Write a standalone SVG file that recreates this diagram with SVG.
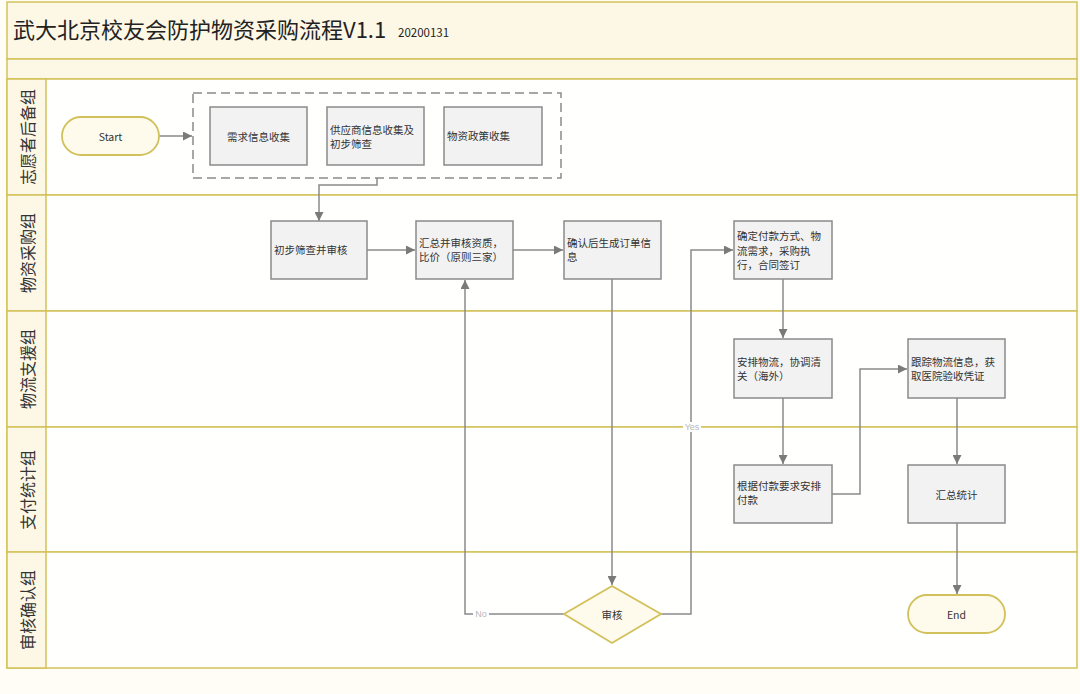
<svg xmlns="http://www.w3.org/2000/svg" width="1080" height="694" viewBox="0 0 1080 694">
<style>
.lane{fill:#fffffd;stroke:#d4c25a;stroke-width:1.5}
.head{fill:#fdf7e6;stroke:#d4c25a;stroke-width:1.5}
.lbl{font-family:"Noto Sans CJK SC","Noto Sans",sans-serif;font-size:16px;fill:#333;text-anchor:middle;dominant-baseline:central}
.box{fill:#f2f2f2;stroke:#8a8a8a;stroke-width:1.5}
.t{font-family:"Noto Sans CJK SC","Liberation Sans",sans-serif;font-size:10.5px;fill:#333}
.c{text-anchor:middle;dominant-baseline:central}
.term{fill:#fffbec;stroke:#d2c05a;stroke-width:1.8}
.ln{fill:none;stroke:#8a8a8a;stroke-width:1.5}
.faint{font-family:"Liberation Sans",sans-serif;font-size:9px;fill:#b8b8b8}
</style>
<defs>
<marker id="ah" viewBox="0 0 10 10" refX="10" refY="5" markerWidth="9" markerHeight="9" markerUnits="userSpaceOnUse" orient="auto">
<path d="M0,0 L10,5 L0,10 z" fill="#7a7a7a"/>
</marker>
</defs>
<rect x="0" y="0" width="1080" height="694" fill="#fffdf6"/>
<g id="frame">
<rect class="head" x="7" y="2" width="1070" height="57"/>
<rect class="head" x="7" y="59" width="1070" height="20"/>
<rect class="lane" x="7" y="79" width="1070" height="116"/>
<rect class="lane" x="7" y="195" width="1070" height="116"/>
<rect class="lane" x="7" y="311" width="1070" height="116"/>
<rect class="lane" x="7" y="427" width="1070" height="125"/>
<rect class="lane" x="7" y="552" width="1070" height="116"/>
<rect class="head" x="7" y="79" width="39" height="116"/>
<rect class="head" x="7" y="195" width="39" height="116"/>
<rect class="head" x="7" y="311" width="39" height="116"/>
<rect class="head" x="7" y="427" width="39" height="125"/>
<rect class="head" x="7" y="552" width="39" height="116"/>
<text x="13" y="38" font-family="Noto Sans CJK SC,Liberation Sans,sans-serif" font-size="22" fill="#222">武大北京校友会防护物资采购流程V1.1</text>
<text x="398" y="37" font-family="Noto Sans CJK SC,Liberation Sans,sans-serif" font-size="11.5" fill="#222">20200131</text>
<text class="lbl" transform="translate(27 137) rotate(-90)">志愿者后备组</text>
<text class="lbl" transform="translate(27 253) rotate(-90)">物资采购组</text>
<text class="lbl" transform="translate(27 369) rotate(-90)">物流支援组</text>
<text class="lbl" transform="translate(27 490) rotate(-90)">支付统计组</text>
<text class="lbl" transform="translate(27 610) rotate(-90)">审核确认组</text>
</g>
<g id="connectors">
<path class="ln" d="M159 136 H192" marker-end="url(#ah)"/>
<path class="ln" d="M377 178 V185 H319 V221" marker-end="url(#ah)"/>
<path class="ln" d="M367 250 H415" marker-end="url(#ah)"/>
<path class="ln" d="M513 250 H563" marker-end="url(#ah)"/>
<path class="ln" d="M612 279 V585" marker-end="url(#ah)"/>
<path class="ln" d="M564 614 H465 V280" marker-end="url(#ah)"/>
<path class="ln" d="M661 614 H691 V250 H733" marker-end="url(#ah)"/>
<path class="ln" d="M783 279 V338" marker-end="url(#ah)"/>
<path class="ln" d="M783 398 V464" marker-end="url(#ah)"/>
<path class="ln" d="M832 494 H860 V369 H907" marker-end="url(#ah)"/>
<path class="ln" d="M957 398 V464" marker-end="url(#ah)"/>
<path class="ln" d="M957 523 V594" marker-end="url(#ah)"/>
<rect x="683" y="422" width="18" height="10" fill="#ffffff"/>
<text class="faint" x="692" y="430" text-anchor="middle">Yes</text>
<rect x="473" y="609" width="16" height="10" fill="#ffffff"/>
<text class="faint" x="481" y="617" text-anchor="middle">No</text>
</g>
<g id="start">
<rect class="term" x="62" y="117" width="97" height="38" rx="19"/>
<text class="t c" x="110.5" y="136" font-family="Liberation Sans,sans-serif" font-size="9.5">Start</text>
</g>
<g id="collect-group">
<rect x="193" y="93" width="368" height="85" fill="none" stroke="#8a8a8a" stroke-width="1.5" stroke-dasharray="9,5"/>
</g>
<g id="n-demand">
<rect class="box" x="210" y="107" width="97" height="58"/>
<text class="t c" x="258.5" y="136">需求信息收集</text>
</g>
<g id="n-supplier">
<rect class="box" x="327" y="107" width="97" height="58"/>
<text class="t" x="330" y="134">供应商信息收集及</text>
<text class="t" x="330" y="148">初步筛查</text>
</g>
<g id="n-policy">
<rect class="box" x="444" y="107" width="98" height="58"/>
<text class="t" x="447" y="140">物资政策收集</text>
</g>
<g id="n-screen">
<rect class="box" x="271" y="221" width="96" height="58"/>
<text class="t" x="274" y="254">初步筛查并审核</text>
</g>
<g id="n-summary">
<rect class="box" x="416" y="221" width="97" height="58"/>
<text class="t" x="419" y="247">汇总并审核资质，</text>
<text class="t" x="419" y="261">比价（原则三家）</text>
</g>
<g id="n-order">
<rect class="box" x="564" y="221" width="97" height="58"/>
<text class="t" x="567" y="247">确认后生成订单信</text>
<text class="t" x="567" y="261">息</text>
</g>
<g id="n-pay-method">
<rect class="box" x="734" y="221" width="98" height="58"/>
<text class="t" x="737" y="240">确定付款方式、物</text>
<text class="t" x="737" y="255">流需求，采购执</text>
<text class="t" x="737" y="269">行，合同签订</text>
</g>
<g id="n-logistics">
<rect class="box" x="734" y="339" width="98" height="59"/>
<text class="t" x="737" y="366">安排物流，协调清</text>
<text class="t" x="737" y="380">关（海外）</text>
</g>
<g id="n-track">
<rect class="box" x="908" y="339" width="97" height="59"/>
<text class="t" x="911" y="366">跟踪物流信息，获</text>
<text class="t" x="911" y="380">取医院验收凭证</text>
</g>
<g id="n-payment">
<rect class="box" x="734" y="465" width="98" height="58"/>
<text class="t" x="737" y="490">根据付款要求安排</text>
<text class="t" x="737" y="504">付款</text>
</g>
<g id="n-stats">
<rect class="box" x="908" y="465" width="97" height="58"/>
<text class="t c" x="956.5" y="494">汇总统计</text>
</g>
<g id="n-review">
<polygon points="612,586 661,614 612,643 564,614" fill="#fffbec" stroke="#d2c05a" stroke-width="1.8"/>
<text class="t c" x="612" y="614">审核</text>
</g>
<g id="end">
<rect class="term" x="908" y="595" width="97" height="38" rx="19"/>
<text class="t c" x="956.5" y="614" font-family="Liberation Sans,sans-serif" font-size="9.5">End</text>
</g>
</svg>
